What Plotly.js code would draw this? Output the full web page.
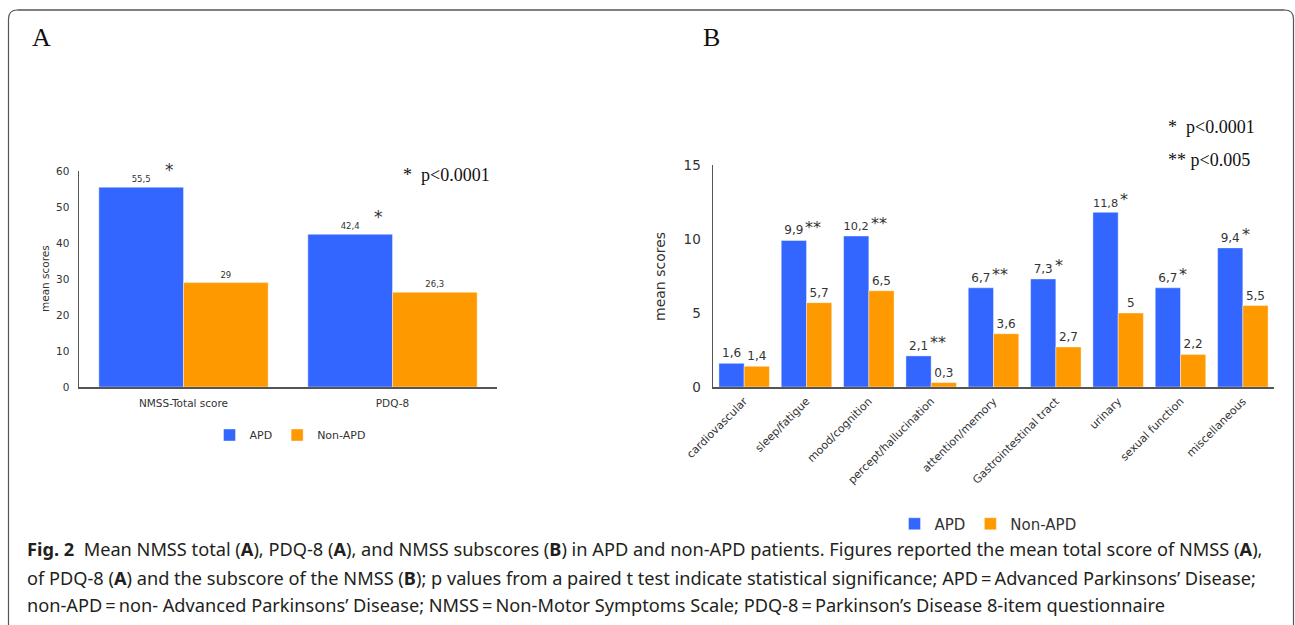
<!DOCTYPE html>
<html>
<head>
<meta charset="utf-8">
<script src="https://cdn.plot.ly/plotly-3.0.1.min.js"></script>
<style>html,body{margin:0;padding:0;background:#fff;}#chart{width:1295px;height:625px;}</style>
</head>
<body>
<div id="chart"></div>
<script>
// ---- data ----
const seriesNames = ['APD', 'Non-APD'];
const catsA = ['NMSS-Total score', 'PDQ-8'];
const apdA = [55.5, 42.4];
const nonApdA = [29, 26.3];
const sigA = ['*', '*'];

const catsB = ['cardiovascular', 'sleep/fatigue', 'mood/cognition', 'percept/hallucination',
  'attention/memory', 'Gastrointestinal tract', 'urinary', 'sexual function', 'miscellaneous'];
const apdB = [1.6, 9.9, 10.2, 2.1, 6.7, 7.3, 11.8, 6.7, 9.4];
const nonApdB = [1.4, 5.7, 6.5, 0.3, 3.6, 2.7, 5, 2.2, 5.5];
const sigB = ['', '**', '**', '**', '**', '*', '*', '*', '*'];

const yTicksA = [0, 10, 20, 30, 40, 50, 60];
const yTicksB = [0, 5, 10, 15];

// ---- helpers ----
const W = 1295, H = 625;
const X = px => px / W;
const Y = py => 1 - py / H;
const fmt = v => String(v).replace('.', ',');
const BLUE = '#3366ff', ORANGE = '#ff9900';
const SANS = 'DejaVu Sans, Verdana, sans-serif';
const SERIF = 'Liberation Serif, Times New Roman, serif';

function barTrace(cats, vals, name, color, xa, ya, leg, tsize, show) {
  return {
    type: 'bar', x: cats, y: vals, name: name, xaxis: xa, yaxis: ya, legend: leg,
    marker: {color: color, line: {color: 'rgba(255,255,255,0.5)', width: 0.8}},
    text: vals.map(fmt), textposition: 'outside', cliponaxis: false,
    textfont: {family: SANS, size: tsize, color: '#333'},
    showlegend: show, hoverinfo: 'x+y'
  };
}

const data = [
  barTrace(catsA, apdA, seriesNames[0], BLUE, 'x', 'y', 'legend', 8.5, true),
  barTrace(catsA, nonApdA, seriesNames[1], ORANGE, 'x', 'y', 'legend', 8.5, true),
  barTrace(catsB, apdB, seriesNames[0], BLUE, 'x2', 'y2', 'legend2', 12, true),
  barTrace(catsB, nonApdB, seriesNames[1], ORANGE, 'x2', 'y2', 'legend2', 12, true)
];

const ann = [];
// panel letters
ann.push({text: 'A', x: X(30), y: Y(38), xref: 'paper', yref: 'paper', xanchor: 'left', yanchor: 'middle', showarrow: false, font: {family: SERIF, size: 26, color: '#111'}});
ann.push({text: 'B', x: X(701), y: Y(38), xref: 'paper', yref: 'paper', xanchor: 'left', yanchor: 'middle', showarrow: false, font: {family: SERIF, size: 26, color: '#111'}});
// axis titles
ann.push({text: 'mean scores', x: X(45), y: Y(279), xref: 'paper', yref: 'paper', xanchor: 'center', yanchor: 'middle', textangle: -90, showarrow: false, font: {family: SANS, size: 10.5, color: '#333'}});
ann.push({text: 'mean scores', x: X(660), y: Y(277), xref: 'paper', yref: 'paper', xanchor: 'center', yanchor: 'middle', textangle: -90, showarrow: false, font: {family: SANS, size: 14, color: '#333'}});
// p-value keys
ann.push({text: '*\u00a0\u00a0p&lt;0.0001', x: X(401), y: Y(175), xref: 'paper', yref: 'paper', xanchor: 'left', yanchor: 'middle', showarrow: false, font: {family: SERIF, size: 18, color: '#111'}});
ann.push({text: '*\u00a0\u00a0p&lt;0.0001', x: X(1166), y: Y(127), xref: 'paper', yref: 'paper', xanchor: 'left', yanchor: 'middle', showarrow: false, font: {family: SERIF, size: 18, color: '#111'}});
ann.push({text: '**\u00a0p&lt;0.005', x: X(1166), y: Y(160), xref: 'paper', yref: 'paper', xanchor: 'left', yanchor: 'middle', showarrow: false, font: {family: SERIF, size: 18, color: '#111'}});

// significance stars next to APD bars
const bgap = 0.19;
const catWA = (497 - 79) / catsA.length, catWB = (1274 - 713) / catsB.length;
catsA.forEach((c, i) => {
  if (!sigA[i]) return;
  ann.push({text: sigA[i], x: c, y: apdA[i], xref: 'x', yref: 'y', xanchor: 'center', yanchor: 'middle',
    xshift: -catWA * (1 - bgap) / 4 + 28, yshift: 17, showarrow: false, font: {family: SANS, size: 17, color: '#333'}});
});
catsB.forEach((c, i) => {
  if (!sigB[i]) return;
  const lw = fmt(apdB[i]).length * 6.4;
  ann.push({text: sigB[i], x: c, y: apdB[i], xref: 'x2', yref: 'y2', xanchor: 'left', yanchor: 'middle',
    xshift: -catWB * (1 - bgap) / 4 + lw / 2, yshift: 13, showarrow: false, font: {family: SANS, size: 16, color: '#333'}});
});

// caption
const capFont = {family: 'Noto Sans, sans-serif', size: 18.2, color: '#231f20'};
const capLines = [
  '<b>Fig. 2</b>\u00a0\u00a0Mean NMSS total (<b>A</b>), PDQ-8 (<b>A</b>), and NMSS subscores (<b>B</b>) in APD and non-APD patients. Figures reported the mean total score of NMSS (<b>A</b>),',
  'of PDQ-8 (<b>A</b>) and the subscore of the NMSS (<b>B</b>); p values from a paired t test indicate statistical significance; APD\u2009=\u2009Advanced Parkinsons\u2019 Disease;',
  'non-APD\u2009=\u2009non- Advanced Parkinsons\u2019 Disease; NMSS\u2009=\u2009Non-Motor Symptoms Scale; PDQ-8\u2009=\u2009Parkinson\u2019s Disease 8-item questionnaire'
];
const capY = [549, 578, 605];
capLines.forEach((t, i) => ann.push({text: t, x: X(25), y: Y(capY[i]), xref: 'paper', yref: 'paper', xanchor: 'left', yanchor: 'middle', showarrow: false, font: capFont}));

// frame
const r = 9, L = 8.5, R = 1293.5, T = 10;
const framePath = `M ${X(L)},${Y(640)} L ${X(L)},${Y(T + r)} Q ${X(L)},${Y(T)} ${X(L + r)},${Y(T)} L ${X(R - r)},${Y(T)} Q ${X(R)},${Y(T)} ${X(R)},${Y(T + r)} L ${X(R)},${Y(640)}`;
const shapes = [
  {type: 'path', xref: 'paper', yref: 'paper', path: framePath, line: {color: '#555', width: 1.2}},
  {type: 'line', xref: 'paper', yref: 'paper', x0: X(L + r), x1: X(R - r), y0: Y(T), y1: Y(T), line: {color: '#808080', width: 2}}
];

const axisCommon = {showline: true, linecolor: '#555', linewidth: 1.5, ticks: '', showgrid: false, zeroline: false, fixedrange: true};

const layout = {
  width: W, height: H, margin: {l: 0, r: 0, t: 0, b: 0},
  paper_bgcolor: '#fff', plot_bgcolor: '#fff',
  barmode: 'group', bargap: bgap, bargroupgap: 0,
  font: {family: SANS, color: '#333'},
  xaxis: Object.assign({}, axisCommon, {domain: [X(79), X(497)], anchor: 'y', type: 'category',
    tickfont: {family: SANS, size: 10.5, color: '#333'}, ticklabelstandoff: 6}),
  yaxis: Object.assign({}, axisCommon, {domain: [Y(387), Y(171)], anchor: 'x', range: [0, 60],
    tickvals: yTicksA, ticktext: yTicksA.map(String), tickfont: {family: SANS, size: 10.5, color: '#333'}, ticklabelstandoff: 6}),
  xaxis2: Object.assign({}, axisCommon, {domain: [X(713), X(1274)], anchor: 'y2', type: 'category', tickangle: -45,
    tickfont: {family: SANS, size: 11, color: '#333'}, ticklabelstandoff: 2}),
  yaxis2: Object.assign({}, axisCommon, {domain: [Y(387), Y(165)], anchor: 'x2', range: [0, 15],
    tickvals: yTicksB, ticktext: yTicksB.map(String), tickfont: {family: SANS, size: 13.5, color: '#333'}, ticklabelstandoff: 8}),
  legend: {orientation: 'h', x: X(290), xanchor: 'center', y: Y(435), yanchor: 'middle',
    font: {family: SANS, size: 11, color: '#333'}, itemwidth: 30, tracegroupgap: 0, bgcolor: 'rgba(0,0,0,0)'},
  legend2: {orientation: 'h', x: X(988), xanchor: 'center', y: Y(524), yanchor: 'middle',
    font: {family: SANS, size: 15, color: '#333'}, itemwidth: 30, tracegroupgap: 0, bgcolor: 'rgba(0,0,0,0)'},
  annotations: ann, shapes: shapes, showlegend: true
};

Plotly.newPlot('chart', data, layout, {displayModeBar: false, staticPlot: true});
</script>
</body>
</html>
